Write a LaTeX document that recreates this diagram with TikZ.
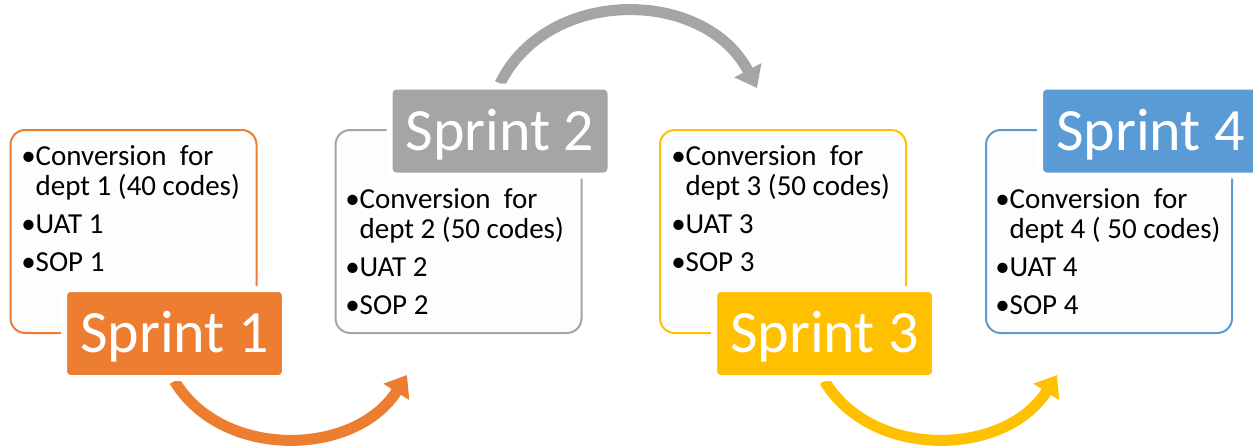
\documentclass[tikz,border=0pt]{standalone}
\usepackage{fontspec}
\setmainfont{Carlito}
\usetikzlibrary{arrows.meta}
\definecolor{sOrange}{HTML}{ED7D31}
\definecolor{sGray}{HTML}{A5A5A5}
\definecolor{sYellow}{HTML}{FFC000}
\definecolor{sBlue}{HTML}{5B9BD5}
\definecolor{cardfill}{HTML}{FDFDFD}
\pgfdeclarelayer{bg}
\pgfsetlayers{bg,main}
\tikzset{
  card/.style={draw=#1, line width=1.5pt, fill=cardfill, rounded corners=11pt,
    minimum width=184.5pt, minimum height=152.25pt, inner sep=0pt},
  sprint/.style={fill=#1, draw=white, line width=4.5pt, rounded corners=5pt,
    minimum width=165.75pt, minimum height=66.75pt, inner sep=0pt,
    text=white, font=\fontsize{45}{54}\selectfont, text height=29pt, text depth=0pt},
  items/.style={anchor=base west, inner sep=0pt, text=black,
    font=\fontsize{21.75}{23}\selectfont},
  flow/.style={draw=#1, line width=8.25pt, -{Triangle[length=15pt,width=22pt]}},
}
\newcommand{\itemlist}[2]{%
  \renewcommand{\arraystretch}{1}%
  \begin{tabular}[t]{@{}l@{}l@{}}
  •&Conversion\hspace{5pt} for\\
   &#1\\[5.5pt]
  •&UAT #2\\[5.5pt]
  •&SOP #2
  \end{tabular}}
\begin{document}
\begin{tikzpicture}[x=0.75pt,y=-0.75pt]
\useasboundingbox (0,0) rectangle (1253,446);
% cards
\node[card=sOrange] (b1) at (133.5,231.5) {};
\node[card=sGray]   (b2) at (458.5,231.5) {};
\node[card=sYellow] (b3) at (783,231.5) {};
\node[card=sBlue]   (b4) at (1109,231.5) {};
% texts
\node[items] (t1) at (21,165) {\itemlist{dept 1 (40 codes)}{1}};
\node[items] (t2) at (345,208) {\itemlist{dept 2 (50 codes)}{2}};
\node[items] (t3) at (671,165) {\itemlist{dept 3 (50 codes)}{3}};
\node[items] (t4) at (995,208) {\itemlist{dept 4 ( 50 codes)}{4}};
% labels
\node[sprint=sOrange] (s1) at (174.5,333.5) {Sprint 1};
\node[sprint=sGray]   (s2) at (500,131) {Sprint 2};
\node[sprint=sYellow] (s3) at (824.5,333.5) {Sprint 3};
\node[sprint=sBlue]   (s4) at (1150.5,131) {Sprint 4};
% arrow ends
\coordinate (e1) at (407,375);
\coordinate (e2) at (757,88);
\coordinate (e3) at (1057,375);
\begin{pgfonlayer}{bg}
\draw[flow=sOrange] (s1.south) .. controls (222,460) and (355,457) .. (e1);
\draw[flow=sGray] (s2.north) .. controls (548,-14) and (705,-12) .. (e2);
\draw[flow=sYellow] (s3.south) .. controls (872,460) and (1005,457) .. (e3);
\end{pgfonlayer}
\end{tikzpicture}
\end{document}
